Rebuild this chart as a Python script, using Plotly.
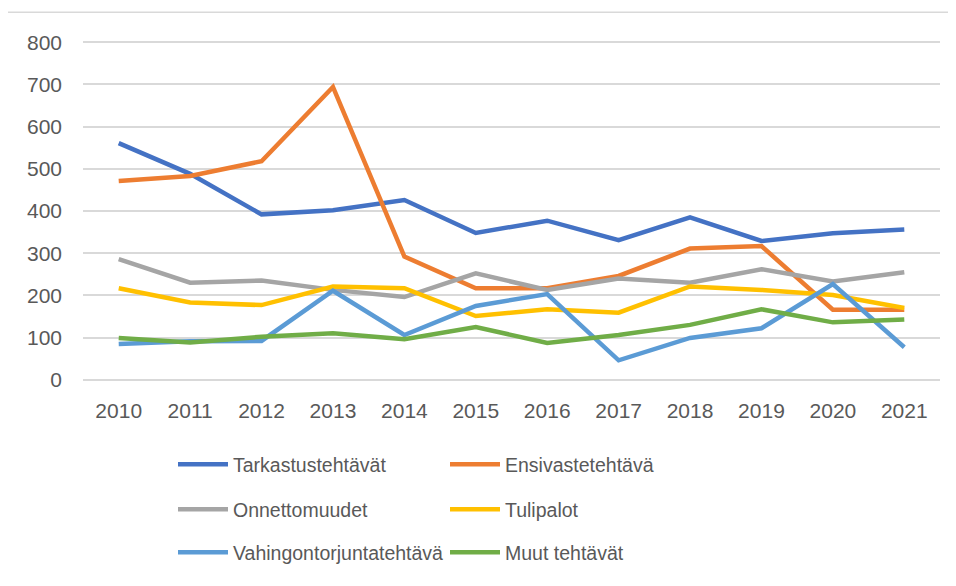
import plotly.graph_objects as go

years = ["2010", "2011", "2012", "2013", "2014", "2015", "2016", "2017", "2018", "2019", "2020", "2021"]

tarkastustehtavat = [561, 488, 392, 402, 426, 348, 377, 331, 385, 329, 347, 356]
ensivastetehtava = [471, 483, 518, 694, 292, 217, 217, 246, 311, 317, 166, 166]
onnettomuudet = [286, 230, 235, 213, 196, 252, 213, 240, 230, 262, 233, 255]
tulipalot = [217, 183, 177, 221, 217, 151, 167, 159, 221, 213, 201, 170]
vahingontorjunta = [85, 91, 92, 211, 106, 175, 203, 46, 99, 122, 227, 77]
muut = [99, 88, 102, 110, 96, 125, 87, 106, 130, 167, 136, 143]

series_names = ["Tarkastustehtävät", "Ensivastetehtävä", "Onnettomuudet",
                "Tulipalot", "Vahingontorjuntatehtävä", "Muut tehtävät"]
series_values = [tarkastustehtavat, ensivastetehtava, onnettomuudet,
                 tulipalot, vahingontorjunta, muut]
colors = ["#4472C4", "#ED7D31", "#A5A5A5", "#FFC000", "#5B9BD5", "#70AD47"]
y_ticks = [0, 100, 200, 300, 400, 500, 600, 700, 800]

W, H = 956, 586
OFF = 8  # page body margin offset
# target screen plot area: 0 at y=380, 800 at y=42; x from 83 to 940
PAD = 3
scale = (380 - 42) / 800
L = 83 - OFF
R = W - (940 - OFF)
T = 42 - OFF - PAD * scale
B = H - (380 - OFF) - PAD * scale
pw, ph = W - L - R, H - T - B
y_bottom_px = H - B  # figure px of bottom of plot area

FONT = "Liberation Sans"
TXT = "#595959"

fig = go.Figure()
legend_names = ["legend", "legend2", "legend3", "legend4", "legend5", "legend6"]
for i, (name, vals, col) in enumerate(zip(series_names, series_values, colors)):
    fig.add_trace(go.Scatter(
        x=years, y=vals, name=name, mode="lines",
        line=dict(color=col, width=4.5),
        legend=legend_names[i],
    ))

# screen px of legend anchors
col_px = [173 - OFF, 445 - OFF]
row_px = [465 - OFF, 510 - OFF, 553 - OFF]
legends = {}
for i, ln in enumerate(legend_names):
    cx = col_px[i % 2]
    ry = row_px[i // 2]
    legends[ln] = dict(
        x=(cx - L) / pw, y=(y_bottom_px - ry) / ph, xanchor="left", yanchor="middle",
        orientation="h", bgcolor="rgba(0,0,0,0)",
        font=dict(family=FONT, size=19.5, color=TXT),
        itemwidth=50,
    )

fig.update_layout(
    width=W, height=H,
    margin=dict(l=L, r=R, t=T, b=B, autoexpand=False),
    paper_bgcolor="white", plot_bgcolor="white",
    showlegend=True,
    xaxis=dict(
        type="category", range=[-0.5, 11.5], showgrid=False, zeroline=False,
        showline=False, ticks="", tickfont=dict(family=FONT, size=21, color=TXT),
        ticklabelstandoff=15,
    ),
    yaxis=dict(
        range=[-PAD, 800 + PAD], tickvals=y_ticks, showgrid=True, gridcolor="#D9D9D9",
        gridwidth=1.5, zeroline=False, showline=False, ticks="",
        tickfont=dict(family=FONT, size=21, color=TXT),
        ticklabelstandoff=20,
    ),
    shapes=[dict(type="rect", xref="paper", yref="paper",
                 x0=(6.5 - OFF - L) / pw, x1=(W + 20 - L) / pw,
                 y0=(y_bottom_px - (H + 20)) / ph, y1=(y_bottom_px - (12 - OFF)) / ph,
                 line=dict(color="#D9D9D9", width=1.5), layer="below")],
    **legends,
)

fig.write_html("out.html")
